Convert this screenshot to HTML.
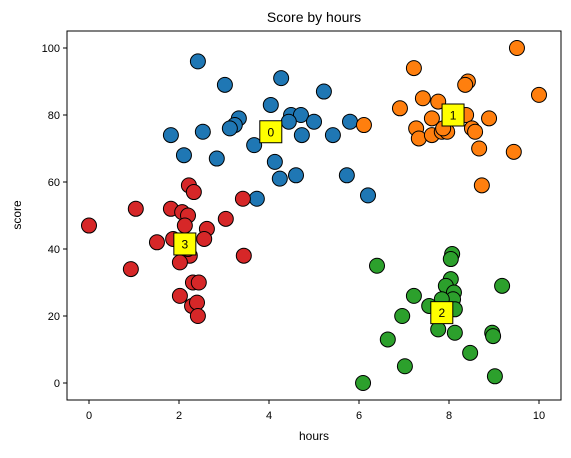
<!DOCTYPE html>
<html><head><meta charset="utf-8"><style>
body{margin:0;background:#fff}
svg{font-family:"Liberation Sans","DejaVu Sans",sans-serif}
</style></head><body>
<svg id="chart" width="571" height="453" xmlns="http://www.w3.org/2000/svg">
<rect width="571" height="453" fill="#fff"/>
<text x="314" y="22" font-size="14" text-anchor="middle">Score by hours</text>
<g id="marks"></g>
<rect x="67" y="31" width="494" height="369" fill="none" stroke="#000" stroke-width="1"/>
<g id="axes"></g>
<text x="314" y="440" font-size="12" text-anchor="middle">hours</text>
<text x="21" y="215" font-size="12" text-anchor="middle" transform="rotate(-90 21 215)">score</text>
</svg>
<script>
const colors=["#1f77b4","#ff7f0e","#2ca02c","#d62728"];
const cluster0=[[2.42,96],[3.02,89],[4.27,91],[5.22,87],[4.04,83],[3.33,79],[3.24,77],[3.13,76],[4.49,80],[4.71,80],[4.44,78],[5.0,78],[5.8,78],[1.82,74],[2.53,75],[4.73,74],[5.42,74],[3.67,71],[2.11,68],[2.84,67],[4.13,66],[4.24,61],[4.6,62],[5.73,62],[6.2,56],[3.73,55]];
const cluster1=[[6.11,77],[9.51,100],[7.22,94],[8.42,90],[8.36,89],[10.0,86],[7.42,85],[7.76,84],[6.91,82],[8.38,80],[8.89,79],[7.62,79],[8.02,80],[7.27,76],[8.51,76],[8.58,75],[7.33,73],[7.62,74],[7.84,75],[7.96,75],[7.87,76],[8.67,70],[9.44,69],[8.73,59]];
const cluster2=[[8.07,38.5],[8.04,37],[6.4,35],[9.18,29],[8.04,31],[7.93,29],[8.11,27],[8.09,25],[7.22,26],[7.84,25],[7.56,23],[8.13,22],[6.96,20],[7.76,16],[8.13,15],[8.96,15],[8.98,14],[6.64,13],[8.47,9],[7.02,5],[9.02,2],[6.09,0]];
const cluster3=[[0,47],[1.04,52],[1.82,52],[2.07,51],[2.2,50],[2.22,59],[2.33,57],[2.13,47],[3.42,55],[3.04,49],[2.62,46],[2.56,43],[1.87,43],[1.51,42],[2.24,38],[2.02,36],[3.44,38],[0.93,34],[2.31,30],[2.44,30],[2.02,26],[2.29,23],[2.4,24],[2.42,20],[2.2,40]];
const centroids=[[4.04,75],[8.09,80],[7.84,21],[2.13,41.5]];
const xTicks=[0,2,4,6,8,10];
const yTicks=[0,20,40,60,80,100];
const NS="http://www.w3.org/2000/svg";
const sx=v=>89+v*45, sy=v=>383-v*3.35;
const marks=document.getElementById('marks'), axes=document.getElementById('axes');
function mk(t,a,p){const e=document.createElementNS(NS,t);for(const k in a)e.setAttribute(k,a[k]);p.appendChild(e);return e;}
[cluster0,cluster1,cluster2,cluster3].forEach((cl,ci)=>{cl.forEach(p=>{
 const c=mk('circle',{cx:sx(p[0]),cy:sy(p[1]),r:7.5,fill:colors[ci],stroke:'#000','stroke-width':1},marks);
 
 
});});
centroids.forEach((p,i)=>{
 const g=mk('g',{},marks);
 
 
 mk('rect',{x:sx(p[0])-11,y:sy(p[1])-11,width:22,height:22,fill:'#ffff00',stroke:'#000','stroke-width':1},g);
 const t=mk('text',{x:sx(p[0]),y:sy(p[1])+4.5,'font-size':12,'text-anchor':'middle'},g);t.textContent=i;
});
xTicks.forEach(v=>{
 const l=mk('line',{x1:sx(v),x2:sx(v),y1:400,y2:404,stroke:'#000'},axes);
 
 
 const t=mk('text',{x:sx(v),y:419,'font-size':11,'text-anchor':'middle'},axes);t.textContent=v;
 
 
});
yTicks.forEach(v=>{
 const l=mk('line',{x1:63,x2:67,y1:sy(v),y2:sy(v),stroke:'#000'},axes);
 
 
 const t=mk('text',{x:60,y:sy(v)+4,'font-size':11,'text-anchor':'end'},axes);t.textContent=v;
 
 
});
</script>
</body></html>
